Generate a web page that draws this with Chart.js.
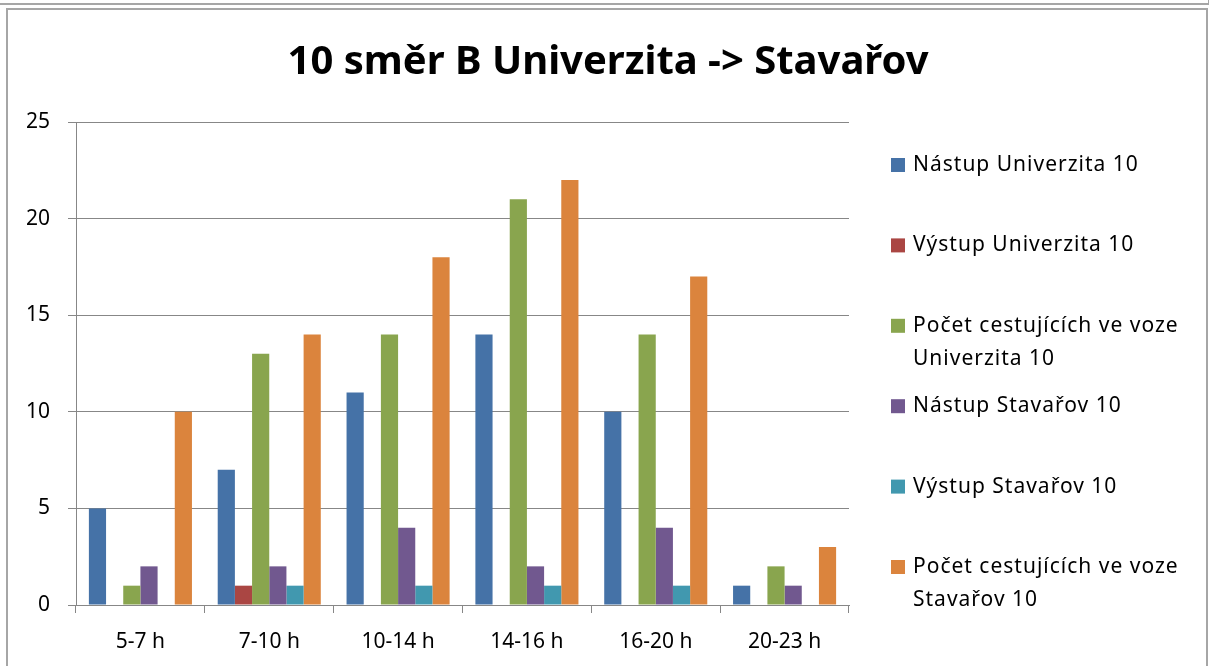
<!DOCTYPE html>
<html>
<head>
<meta charset="utf-8">
<script src="https://cdn.jsdelivr.net/npm/chart.js@4"></script>
<style>
  body { margin: 0; background: #fff; overflow: hidden; }
  .prev { position: absolute; left: -10px; top: -9px; width: 1216px; height: 10px; border: 2px solid #a6a6a6; }
  .frame { position: absolute; left: 6px; top: 8px; width: 1198px; height: 700px; border: 2px solid #a6a6a6; }
  #wrap { position: absolute; left: 0; top: 0; width: 1209px; height: 666px; }
</style>
</head>
<body>
<div class="prev"></div>
<div class="frame"></div>
<div id="wrap"><canvas id="myChart" width="1209" height="666"></canvas></div>
<script>
const categories = ['5-7 h', '7-10 h', '10-14 h', '14-16 h', '16-20 h', '20-23 h'];
const nastupUniverzita = [5, 7, 11, 14, 10, 1];
const vystupUniverzita = [0, 1, 0, 0, 0, 0];
const vozUniverzita = [1, 13, 14, 21, 14, 2];
const nastupStavarov = [2, 2, 4, 2, 4, 1];
const vystupStavarov = [0, 1, 1, 1, 1, 0];
const vozStavarov = [10, 14, 18, 22, 17, 3];
const yTicks = [0, 5, 10, 15, 20, 25];

const chartTitle = '10 směr B Univerzita -> Stavařov';
const seriesNames = [
  ['Nástup Univerzita 10'],
  ['Výstup Univerzita 10'],
  ['Počet cestujících ve voze', 'Univerzita 10'],
  ['Nástup Stavařov 10'],
  ['Výstup Stavařov 10'],
  ['Počet cestujících ve voze', 'Stavařov 10']
];
const colors = ['#4572A7', '#AA4643', '#89A54E', '#71588F', '#4198AF', '#DB843D'];
const FONT = '"Noto Sans", sans-serif';

// title centred on the whole page, legend drawn by hand so the long entries wrap
const decorations = {
  id: 'decorations',
  afterDraw(chart) {
    const ctx = chart.ctx;
    ctx.save();
    ctx.fillStyle = '#000';
    ctx.textBaseline = 'middle';
    ctx.textAlign = 'center';
    ctx.font = 'bold 40px ' + FONT;
    ctx.fillText(chartTitle, 608, 63);

    ctx.textAlign = 'left';
    ctx.font = '21px ' + FONT;
    ctx.letterSpacing = '1px';
    chart.data.datasets.forEach(function (ds, i) {
      const cy = 165 + 80.4 * i;
      ctx.fillStyle = ds.backgroundColor;
      ctx.fillRect(891, cy - 7, 14, 14);
      ctx.fillStyle = '#000';
      seriesNames[i].forEach(function (t, k) {
        ctx.fillText(t, 913, cy + k * 33);
      });
    });
    ctx.restore();
  }
};

const ctx = document.getElementById('myChart').getContext('2d');
const datasets = [nastupUniverzita, vystupUniverzita, vozUniverzita, nastupStavarov, vystupStavarov, vozStavarov]
  .map(function (values, i) {
    return {
      label: seriesNames[i].join(' '),
      data: values,
      backgroundColor: colors[i],
      borderWidth: 0,
      categoryPercentage: 0.8,
      barPercentage: 1.0
    };
  });

new Chart(ctx, {
  type: 'bar',
  data: { labels: categories, datasets: datasets },
  options: {
    responsive: false,
    animation: false,
    layout: { padding: { left: 0, right: 360, top: 122, bottom: 0 } },
    plugins: {
      legend: { display: false },
      tooltip: { enabled: false },
      title: { display: false }
    },
    scales: {
      x: {
        grid: { offset: true, drawOnChartArea: false, color: '#878787', tickLength: 8 },
        border: { color: '#878787', width: 1 },
        ticks: { color: '#000', font: { family: FONT, size: 21 }, padding: 16 },
        afterFit: function (axis) { axis.height = 61; }
      },
      y: {
        min: 0,
        max: 25,
        afterBuildTicks: function (axis) { axis.ticks = yTicks.map(function (v) { return { value: v }; }); },
        grid: { color: '#878787', tickLength: 8 },
        border: { color: '#878787', width: 1 },
        ticks: { color: '#000', font: { family: FONT, size: 21 }, padding: 18 },
        afterFit: function (axis) { axis.width = 76; }
      }
    }
  },
  plugins: [decorations]
});
</script>
</body>
</html>
